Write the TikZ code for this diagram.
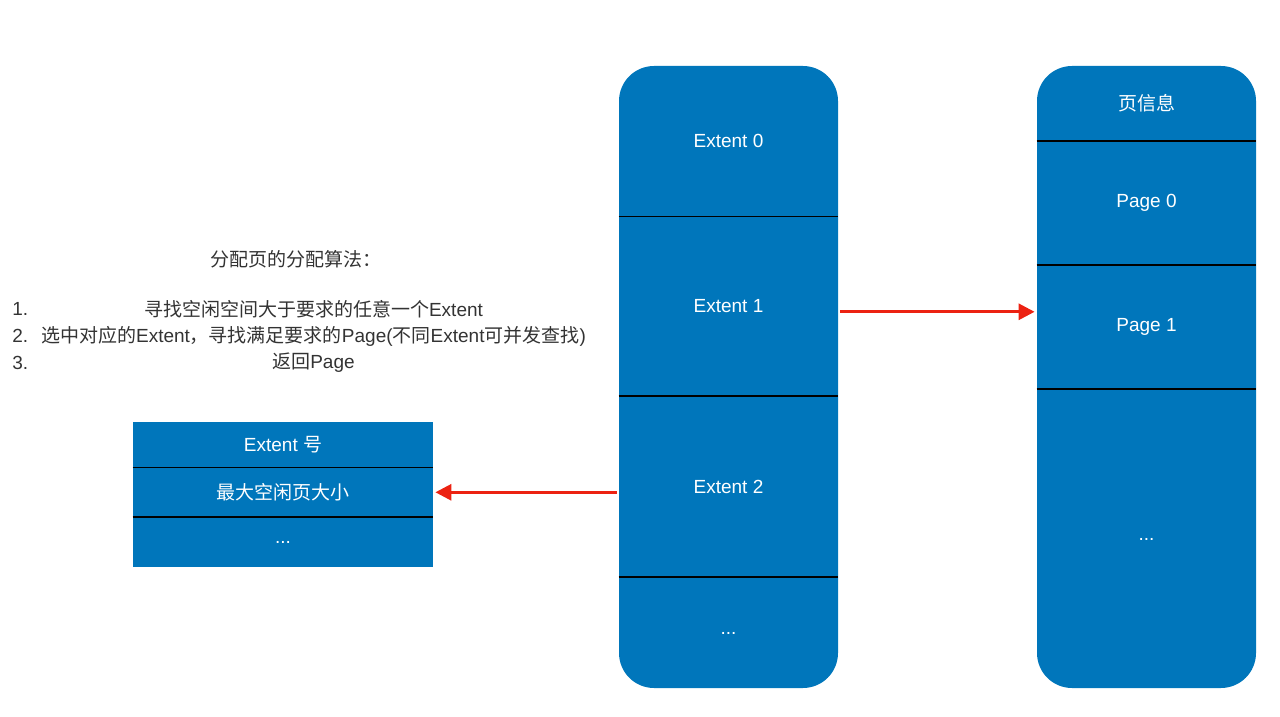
\documentclass[tikz,border=0pt]{standalone}
\usepackage{fontspec}
\setmainfont{Liberation Sans}
\newfontfamily\zhfont{Noto Sans CJK SC}
\newcommand\zh[1]{{\zhfont #1}}
\usetikzlibrary{arrows.meta,positioning}
\definecolor{cellblue}{RGB}{0,118,187}
\definecolor{linkred}{RGB}{236,34,18}
\definecolor{notegray}{RGB}{51,51,51}
\tikzset{%
  column/.style={fill=cellblue, rounded corners=17.5pt,
    minimum width=109.5pt, minimum height=311pt, inner sep=0pt},
  cell/.style={text=white, minimum width=109.5pt, inner sep=0pt,
    font=\fontsize{9.5}{11}\selectfont},
  tablecell/.style={cell, fill=cellblue, minimum width=150pt},
  divider/.style={line width=0.9pt, black},
  link/.style={draw=linkred, line width=1.5pt,
    -{Triangle[length=8pt,width=8pt]}, shorten <=1pt, shorten >=1pt},
  note/.style={text=notegray, inner sep=0pt,
    font=\fontsize{9.5}{11}\selectfont}
}

\begin{document}
\begin{tikzpicture}[x=0.5pt, y=-0.5pt]
		\useasboundingbox (0,0) rectangle (1280,717);
		% extents
		\node [column] (extcol) at (728.5,377) {};
		\node [cell, minimum height=75pt] (e0) at (728.5,141) {Extent 0};
		\node [cell, minimum height=89.5pt, below=0pt of e0] (e1) {Extent 1};
		\node [cell, minimum height=90pt, below=0pt of e1] (e2) {Extent 2};
		\node [cell, minimum height=56.5pt, below=0pt of e2] (e3) {...};
		% pages
		\node [column] (pagecol) at (1146.5,377) {};
		\node [cell, minimum height=37.5pt] (pi) at (1146.5,103.5) {\zh{页信息}};
		\node [cell, minimum height=61.5pt, below=0pt of pi] (p0) {Page 0};
		\node [cell, minimum height=61.5pt, below=0pt of p0] (p1) {Page 1};
		\node [cell, minimum height=150.5pt, below=0pt of p1] (p2) {...};
		% extent entry
		\node [tablecell, minimum height=22.5pt] (m0) at (283,444.5) {Extent \zh{号}};
		\node [tablecell, minimum height=24.5pt, below=0pt of m0] (m1) {\zh{最大空闲页大小}};
		\node [tablecell, minimum height=24.5pt, below=0pt of m1] (m2) {...};
		\foreach \c in {e0,e1,e2,pi,p0,p1,m0,m1}
		  \draw [divider] (\c.south west) -- (\c.south east);
		\draw [link] ([yshift=-2.75pt]e1.east) -- ([yshift=-2.75pt]e1.east -| p1.west);
		\draw [link] (e2.west |- m1.east) -- (m1.east);
		% algorithm
		\node [note] (title) at (296,259) {\zh{分配页的分配算法：}};
		\node [note, anchor=west] (n1) at (12,309) {1.};
		\node [note] (s1) at (313.5,309) {\zh{寻找空闲空间大于要求的任意一个}Extent};
		\node [note, anchor=west] (n2) at (12,336) {2.};
		\node [note] (s2) at (313.5,336)
		  {\zh{选中对应的}Extent\zh{，寻找满足要求的}Page(\zh{不同}Extent\zh{可并发查找})};
		\node [note, anchor=west] (n3) at (12,363) {3.};
		\node [note] (s3) at (313.5,363) {\zh{返回}Page};
	\end{tikzpicture}
\end{document}
